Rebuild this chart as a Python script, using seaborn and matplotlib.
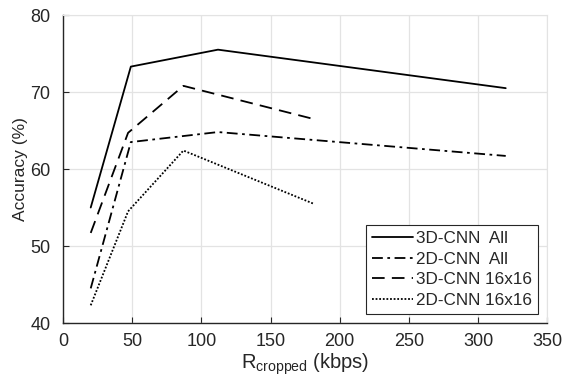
import matplotlib
matplotlib.use("Agg")
import matplotlib.pyplot as plt
import seaborn as sns
import pandas as pd

# data
x_all = [20, 49, 112, 320]
x_16 = [20, 47, 87, 181]
acc_3d_all = [55.0, 73.3, 75.5, 70.5]
acc_2d_all = [44.5, 63.5, 64.8, 61.7]
acc_3d_16 = [51.7, 64.7, 70.8, 66.5]
acc_2d_16 = [42.3, 54.5, 62.4, 55.5]

series = [
    ("3D-CNN  All", x_all, acc_3d_all, "-"),
    ("2D-CNN  All", x_all, acc_2d_all, (0, (6, 2.5, 1.5, 2.5))),
    ("3D-CNN 16x16", x_16, acc_3d_16, (0, (7, 4))),
    ("2D-CNN 16x16", x_16, acc_2d_16, (0, (1, 1))),
]

sns.set_style("whitegrid")
plt.rcParams["font.family"] = ["Liberation Sans", "DejaVu Sans"]

fig = plt.figure(figsize=(5.63, 3.85), dpi=100)
ax = fig.add_axes([0.112, 0.161, 0.86, 0.80])

for name, xs, ys, ls in series:
    df = pd.DataFrame({"x": xs, "y": ys})
    sns.lineplot(data=df, x="x", y="y", ax=ax, color="black", linewidth=1.3,
                 linestyle=ls, label=name)

ax.set_xlim(0, 350)
ax.set_ylim(40, 80)
ax.set_xticks(range(0, 351, 50))
ax.set_yticks(range(40, 81, 10))
ax.grid(True, color="#e3e3e3", linewidth=0.9)
for s in ["top", "right"]:
    ax.spines[s].set_visible(True)
    ax.spines[s].set_color("#e3e3e3")
for s in ["left", "bottom"]:
    ax.spines[s].set_color("#262626")
    ax.spines[s].set_linewidth(1.0)
ax.tick_params(direction="in", length=4, width=0.8, colors="#262626",
               labelsize=13, left=True, bottom=True)
ax.tick_params(axis="x", pad=7)
ax.tick_params(axis="y", pad=9)
ax.set_xlabel(r"R$_{\mathregular{cropped}}$ (kbps)", fontsize=14.5, color="#262626", labelpad=1)
ax.set_ylabel("Accuracy (%)", fontsize=12.5, color="#262626", labelpad=2)

leg = ax.legend(loc="lower right", fontsize=12.3, frameon=True, fancybox=False,
                edgecolor="#262626", framealpha=1, handlelength=2.4,
                handletextpad=0.15, borderpad=0.35, labelspacing=0.32,
                borderaxespad=0.55)
leg.get_frame().set_linewidth(0.8)

fig.savefig("out.png", dpi=100)
